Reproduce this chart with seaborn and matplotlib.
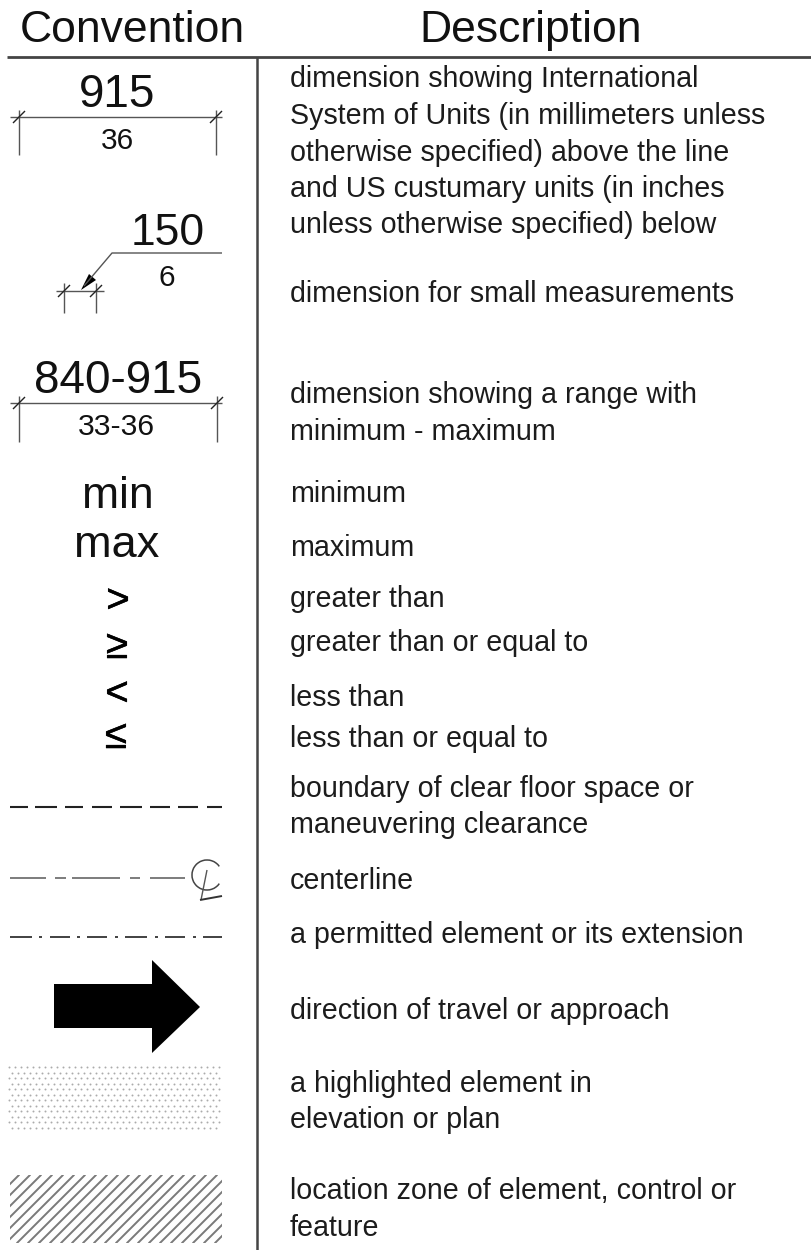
import matplotlib
matplotlib.use('Agg')
import matplotlib.patheffects as pe
import matplotlib.pyplot as plt
import numpy as np
import seaborn as sns
from matplotlib.patches import Arc, Polygon, Rectangle

# table text
headers = ['Convention', 'Description']
header_x = [132, 531]
description_lines = [
    'dimension showing International',
    'System of Units (in millimeters unless',
    'otherwise specified) above the line',
    'and US custumary units (in inches',
    'unless otherwise specified) below',
    'dimension for small measurements',
    'dimension showing a range with',
    'minimum - maximum',
    'minimum',
    'maximum',
    'greater than',
    'greater than or equal to',
    'less than',
    'less than or equal to',
    'boundary of clear floor space or',
    'maneuvering clearance',
    'centerline',
    'a permitted element or its extension',
    'direction of travel or approach',
    'a highlighted element in',
    'elevation or plan',
    'location zone of element, control or',
    'feature',
]
description_y = [87, 124, 161, 197, 233, 302, 403, 440, 502, 556, 607, 651,
                 706, 747, 797, 833, 889, 943, 1019, 1092, 1128, 1199, 1236]
symbols = ['915', '36', '150', '6', '840-915', '33-36', 'min', 'max']
symbol_x = [117, 117, 168, 167, 118, 116, 118, 117]
symbol_y = [107, 149, 245, 286, 393, 435, 508, 557]
symbol_size = [33, 21.5, 32, 21.5, 33, 21.7, 32, 32.5]
comparators = ['>', '≥', '<', '≤']
comparator_x = [118, 117, 117, 116]
comparator_y = [601, 647, 694, 737]

dash_segments = [(10, 28), (35, 57), (65, 83), (92, 112), (120, 142), (150, 170), (178, 198), (207, 222)]
center_segments = [(10, 46), (55, 66), (72, 120), (130, 140), (150, 185)]
permitted_segments = [(10, 32), (39, 42), (50, 70), (77, 80), (87, 107), (115, 118),
                      (125, 147), (155, 158), (165, 185), (193, 196), (203, 222)]

sns.set_theme(style='white')
plt.rcParams['font.family'] = ['Liberation Sans', 'DejaVu Sans']

fig = plt.figure(figsize=(8.12, 12.5), dpi=100)
ax = fig.add_axes([0, 0, 1, 1])
ax.set_xlim(0, 812)
ax.set_ylim(1250, 0)
ax.axis('off')

line_grey = '#555555'


def seg(xs, ys, color=line_grey, lw=1.0):
    sns.lineplot(x=xs, y=ys, ax=ax, color=color, linewidth=lw, sort=False, estimator=None,
                 legend=False, solid_capstyle='butt')


def dim_tick(x, y, top, bottom):
    seg([x, x], [top, bottom])
    seg([x - 6, x + 6], [y + 6, y - 6], color='#222222')


# frame of the table
seg([7, 812], [57, 57], color='#444444', lw=2)
seg([257, 257], [57, 1250], color='#444444', lw=1.8)

for txt, x in zip(headers, header_x):
    ax.text(x, 42, txt, fontsize=32, ha='center', va='baseline', color='#111111')

for txt, y in zip(description_lines, description_y):
    ax.text(290, y, txt, fontsize=20.6, ha='left', va='baseline', color='#1c1c1c')

for txt, x, y, s in zip(symbols, symbol_x, symbol_y, symbol_size):
    ax.text(x, y, txt, fontsize=s, ha='center', va='baseline', color='#111111')

for txt, x, y in zip(comparators, comparator_x, comparator_y):
    ax.text(x, y, txt, fontsize=29, ha='center', va='center', color='black',
            path_effects=[pe.withStroke(linewidth=0.4, foreground='black')])

# dimension lines
seg([10, 222], [117, 117])
dim_tick(19, 117, 110, 155)
dim_tick(216, 117, 110, 155)

seg([222, 112, 84], [253, 253, 286])
seg([56, 104], [291, 291])
dim_tick(64, 291, 283, 313)
dim_tick(96, 291, 283, 313)
ax.add_patch(Polygon([[81, 290], [89, 274], [96, 280]], closed=True, color='black', lw=0))

seg([10, 222], [403, 403])
dim_tick(19, 403, 396, 442)
dim_tick(217, 403, 396, 442)

# line conventions
for a, b in dash_segments:
    seg([a, b], [807, 807], color='#222222', lw=1.5)
for a, b in center_segments:
    seg([a, b], [878, 878], color='#666666', lw=1.2)
for a, b in permitted_segments:
    seg([a, b], [937, 937], color='#333333', lw=1.3)

ax.add_patch(Arc((207, 875), 30, 30, theta1=35, theta2=325, color='#444444', lw=1.1))
seg([207, 201], [870, 900], color='#555555')
seg([200, 222], [900, 896], color='#333333', lw=1.4)

# arrow
ax.add_patch(Polygon([[54, 984], [152, 984], [152, 960], [200, 1007], [152, 1053],
                      [152, 1028], [54, 1028]], closed=True, facecolor='black', edgecolor='none'))

# stippled zone
dot_rows = np.arange(1067, 1132, 5.5)
dot_x, dot_y = [], []
for i, row in enumerate(dot_rows):
    cols = np.arange(9 + (i % 2) * 3, 222, 6)
    dot_x.extend(cols)
    dot_y.extend([row] * len(cols))
sns.scatterplot(x=dot_x, y=dot_y, ax=ax, s=2, color='#ababab', linewidth=0, legend=False)

# diagonal hatch zone
hatch_box = Rectangle((10, 1175), 212, 68, facecolor='none', edgecolor='none')
ax.add_patch(hatch_box)
for start in np.arange(-60, 225, 11):
    hatch_line, = ax.plot([start, start + 68], [1243, 1175], color='#7a7a7a', lw=1.4)
    hatch_line.set_clip_path(hatch_box)

fig.savefig('out.png', dpi=100)
